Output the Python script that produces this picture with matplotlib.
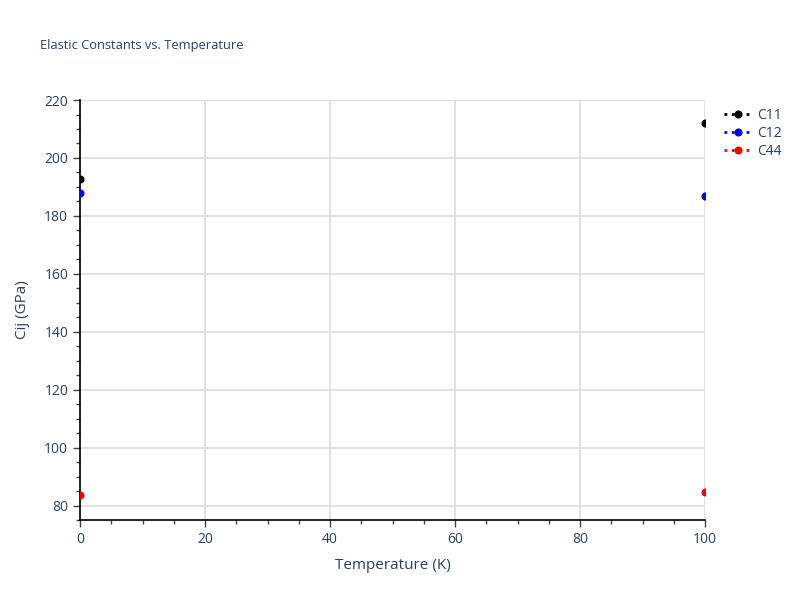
import matplotlib
matplotlib.use('Agg')
import matplotlib.pyplot as plt
from matplotlib.lines import Line2D
from matplotlib.ticker import MultipleLocator

temps = [0, 100]
c11 = [192.7, 212.0]
c12 = [187.8, 186.7]
c44 = [83.6, 84.6]

series = [('C11', c11, 'black'), ('C12', c12, 'blue'), ('C44', c44, 'red')]
txt = '#2a3f5f'

plt.rcParams['font.family'] = ['Open Sans', 'DejaVu Sans']

fig = plt.figure(figsize=(8, 6), dpi=100)
ax = fig.add_axes([0.1, 0.1333, 0.78125, 0.7])

handles = []
for name, vals, col in series:
    ax.plot(temps, vals, linestyle='none', marker='o', markersize=4.8,
            color=col, clip_on=True, zorder=3)
    handles.append(Line2D([], [], linestyle=':', linewidth=2, marker='o',
                          markersize=4.8, color=col, label=name))

ax.set_xlim(0, 100)
ax.set_ylim(75, 220)
ax.xaxis.set_major_locator(MultipleLocator(20))
ax.xaxis.set_minor_locator(MultipleLocator(5))
ax.yaxis.set_major_locator(MultipleLocator(20))
ax.yaxis.set_minor_locator(MultipleLocator(5))

ax.grid(True, which='major', color='#dcdcdc', linewidth=1.2, zorder=0)
ax.set_axisbelow(True)
for s in ['top', 'right']:
    ax.spines[s].set_visible(False)
for s in ['left', 'bottom']:
    ax.spines[s].set_color('black')
    ax.spines[s].set_linewidth(1.2)

ax.tick_params(which='major', direction='out', length=5, width=1,
               color='#444444', labelcolor=txt, labelsize=10)
ax.tick_params(which='minor', direction='out', length=3, width=1,
               color='#444444')

ax.set_xlabel('Temperature (K)', color=txt, fontsize=11, labelpad=8)
ax.set_ylabel('Cij (GPa)', color=txt, fontsize=11, labelpad=10)

fig.text(0.05, 0.925, 'Elastic Constants vs. Temperature', color=txt,
         fontsize=9.3, ha='left', va='center')

leg = fig.legend(handles=handles, loc='upper left', bbox_to_anchor=(0.889, 0.841),
                 frameon=False, fontsize=10, handlelength=2.0,
                 labelspacing=0.22, handletextpad=0.4)
for t in leg.get_texts():
    t.set_color(txt)

fig.savefig('out.png', dpi=100)
